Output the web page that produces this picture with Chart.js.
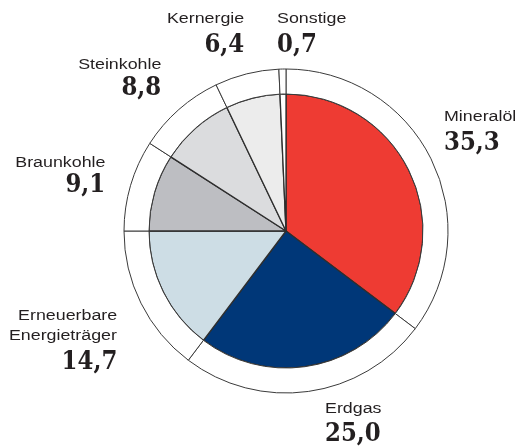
<!DOCTYPE html>
<html>
<head>
<meta charset="utf-8">
<script src="https://cdn.jsdelivr.net/npm/chart.js@4/dist/chart.umd.min.js"></script>
<style>
  html, body { margin: 0; padding: 0; background: #fff; }
  #wrap { position: relative; width: 518px; height: 447px; overflow: hidden; }
  canvas { position: absolute; left: 0; top: 0; }
  .lbl { position: absolute; white-space: nowrap; color: #231f20; }
  .name { font-family: "Liberation Sans", Arial, sans-serif; font-size: 15.5px; line-height: 20px; }
  .val { font-family: "DejaVu Serif", serif; font-weight: bold; font-size: 26px; line-height: 30px; }
</style>
</head>
<body>
<div id="wrap">
  <canvas id="c" width="518" height="447"></canvas>
</div>
<script>
const categories = ["Mineralöl", "Erdgas", "Erneuerbare Energieträger", "Braunkohle", "Steinkohle", "Kernergie", "Sonstige"];
const values = [35.3, 25.0, 14.7, 9.1, 8.8, 6.4, 0.7];
const valueLabels = ["35,3", "25,0", "14,7", "9,1", "8,8", "6,4", "0,7"];
const nameLines = [["Mineralöl"], ["Erdgas"], ["Erneuerbare", "Energieträger"], ["Braunkohle"], ["Steinkohle"], ["Kernergie"], ["Sonstige"]];
const colors = ["#ee3b33", "#003778", "#cddde5", "#bdbec2", "#dbdcde", "#ececec", "#ffffff"];

// label placement: [anchor x, align, last-name-line baseline, value baseline]
const labelPos = [
  [444, "left", 121, 150],
  [325, "left", 413, 441],
  [117, "right", 340, 369],
  [105, "right", 167, 192],
  [161, "right", 69, 95],
  [244, "right", 23, 52],
  [277, "left", 23, 52]
];

new Chart(document.getElementById("c"), {
  type: "pie",
  data: {
    labels: categories,
    datasets: [
      {
        data: values,
        backgroundColor: "#ffffff",
        borderColor: "#3a3a3a",
        borderWidth: 1,
        weight: 25,
        radius: 162
      },
      {
        data: values,
        backgroundColor: colors,
        borderColor: "#2e2e2e",
        borderWidth: 1.3,
        weight: 137,
        radius: 162
      }
    ]
  },
  options: {
    responsive: false,
    animation: false,
    layout: { padding: { left: 54, right: 0, top: 15, bottom: 0 } },
    plugins: { legend: { display: false }, tooltip: { enabled: false } },
    events: []
  }
});

const wrap = document.getElementById("wrap");
function place(el, x, align, sx) {
  if (align === "left") {
    el.style.left = x + "px";
    el.style.transformOrigin = "left center";
  } else {
    el.style.right = (518 - x) + "px";
    el.style.textAlign = "right";
    el.style.transformOrigin = "right center";
  }
  el.style.transform = "scaleX(" + sx + ")";
}
labelPos.forEach((p, i) => {
  const [x, align, nb, vb] = p;
  const lines = nameLines[i];
  lines.forEach((ln, k) => {
    const d = document.createElement("div");
    d.className = "lbl name";
    d.textContent = ln;
    const base = nb - (lines.length - 1 - k) * 20;
    d.style.top = (base - 15.4) + "px";
    place(d, x, align, 1.15);
    wrap.appendChild(d);
  });
  const v = document.createElement("div");
  v.className = "lbl val";
  v.textContent = valueLabels[i];
  v.style.top = (vb - 24) + "px";
  place(v, x, align, 0.88);
  wrap.appendChild(v);
});
</script>
</body>
</html>
